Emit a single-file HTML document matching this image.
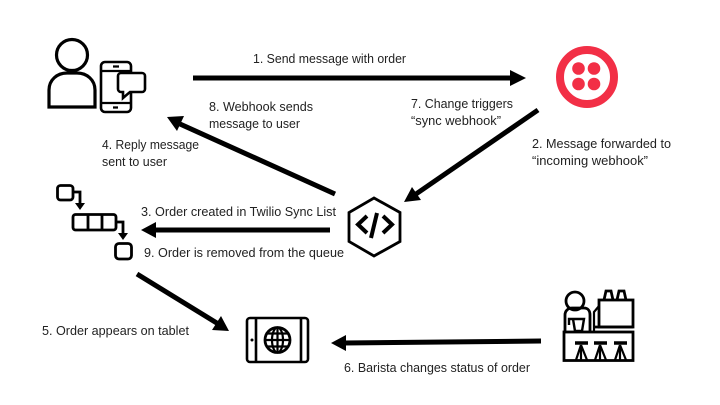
<!DOCTYPE html>
<html><head><meta charset="utf-8"><style>
html,body{margin:0;padding:0;background:#fff}
svg{display:block}
text{font-family:"Liberation Sans",sans-serif;font-size:12.5px;fill:#222}
</style></head><body>
<svg width="720" height="405" viewBox="0 0 720 405" xmlns="http://www.w3.org/2000/svg">
<rect width="720" height="405" fill="#fff"/>
<g stroke="#000" stroke-width="5" fill="none">
<line x1="193" y1="78" x2="512" y2="78"/><path d="M510 70L526 78L510 86z" fill="#000" stroke="none"/>
<line x1="538" y1="110" x2="416" y2="194"/><path d="M404 202L412 187L421 200z" fill="#000" stroke="none"/>
<line x1="335" y1="194" x2="180" y2="124"/><path d="M167 117L184 116L177 131z" fill="#000" stroke="none"/>
<line x1="330" y1="230" x2="155" y2="230"/><path d="M141 230L156 222L156 238z" fill="#000" stroke="none"/>
<line x1="137" y1="274" x2="220" y2="325"/><path d="M229 331L212 330L221 316z" fill="#000" stroke="none"/>
<line x1="541" y1="341" x2="344" y2="343"/><path d="M331 343L346 335L346 351z" fill="#000" stroke="none"/>
</g>
<!-- user -->
<g fill="none" stroke="#000" stroke-width="3.200">
<circle cx="72" cy="55" r="15.500"/>
<path d="M49 107V90C49 80 57 73 67 73H77C87 73 95 80 95 90V107z"/>
<path d="M118 112H105a4 4 0 0 1-4-4V66a4 4 0 0 1 4-4H127a4 4 0 0 1 4 4V73" stroke-width="2.600"/>
<path d="M131 92V108a4 4 0 0 1-4 4H118" stroke-width="2.600"/>
<path d="M101 71H131M101 103H131" stroke-width="2.200"/>
<path d="M113 66.500H119M113 107.500H118" stroke-width="2.200"/>
<path d="M121 73H142a3 3 0 0 1 3 3V89a3 3 0 0 1-3 3H130L123 98V92H121a3 3 0 0 1-3-3V76a3 3 0 0 1 3-3z" stroke-width="2.600" fill="#fff"/>
</g>
<!-- twilio -->
<circle cx="587" cy="77" r="27" fill="none" stroke="#f22f46" stroke-width="8"/>
<g fill="#f22f46"><circle cx="578.500" cy="68.500" r="6.300"/><circle cx="594" cy="68.500" r="6.300"/><circle cx="578.500" cy="84" r="6.300"/><circle cx="594" cy="84" r="6.300"/></g>
<!-- queue -->
<g fill="none" stroke="#000" stroke-width="2.800">
<rect x="57.500" y="185.500" width="15.500" height="14.500" rx="3"/>
<path d="M73 192H80V205"/><path d="M75 203H85L80 210z" fill="#000" stroke-width="0"/>
<rect x="73" y="214.500" width="43" height="15.500" rx="2.500"/><path d="M88 214.500V230M102 214.500V230"/>
<path d="M116 222H123V234"/><path d="M118 233H128L123 240z" fill="#000" stroke-width="0"/>
<rect x="115.500" y="243.500" width="16" height="15.500" rx="3.500"/>
</g>
<!-- hexagon -->
<path d="M374 198L400 212.500V241.500L374 256L349 241.500V212.500z" fill="none" stroke="#000" stroke-width="2.800"/>
<g fill="none" stroke="#000" stroke-width="4"><path d="M367 216L358 224.500L367 233M383 216L392 224.500L383 233M377 213L371 238"/></g>
<!-- tablet -->
<g fill="none" stroke="#000" stroke-width="2.600">
<rect x="247" y="318" width="61" height="44" rx="3"/><path d="M256 318V362M301 318V362"/>
</g>
<circle cx="252" cy="340" r="1.500" fill="#000"/>
<g fill="none" stroke="#000"><circle cx="277.500" cy="340" r="12.500" stroke-width="2.800"/>
<ellipse cx="277.500" cy="340" rx="5.500" ry="12.500" stroke-width="2.200"/><path d="M277.500 327V353M265 340H290M267 333.500H288M267 346.500H288" stroke-width="2.200"/></g>
<!-- barista -->
<g fill="none" stroke="#000" stroke-width="2.800">
<circle cx="575" cy="301" r="9"/>
<path d="M565 332V315C565 311 568 308 572 308H584C588 308 590 311 590 315V332"/>
<path d="M569 325V319H584L582 331H575L573 319" stroke-width="2.400"/>
<rect x="599" y="300" width="34" height="27"/>
<path d="M594 332V312L599 306" stroke-width="2.200"/>
<path d="M594 327H633" />
<path d="M604 300L606 291H611L613 300M617 300L619 291H624L626 300" />
<rect x="564" y="332" width="69" height="28.500"/>
<path d="M575 343H588M594 343H607M614 343H627" stroke-width="3.400"/>
<path d="M581 345L576 360M581 345L587 360M581 345V360M600 345L595 360M600 345L606 360M600 345V360M620 345L615 360M620 345L626 360M620 345V360" stroke-width="2.200"/>
</g>
<text x="253" y="63" textLength="153" lengthAdjust="spacingAndGlyphs">1. Send message with order</text>
<text x="209" y="111" textLength="104" lengthAdjust="spacingAndGlyphs">8. Webhook sends</text>
<text x="209" y="128" textLength="91" lengthAdjust="spacingAndGlyphs">message to user</text>
<text x="411" y="108" textLength="102" lengthAdjust="spacingAndGlyphs">7. Change triggers</text>
<text x="411" y="125" textLength="90" lengthAdjust="spacingAndGlyphs">“sync webhook”</text>
<text x="102" y="149" textLength="97" lengthAdjust="spacingAndGlyphs">4. Reply message</text>
<text x="102" y="166" textLength="65" lengthAdjust="spacingAndGlyphs">sent to user</text>
<text x="532" y="148" textLength="139" lengthAdjust="spacingAndGlyphs">2. Message forwarded to</text>
<text x="532" y="165" textLength="116" lengthAdjust="spacingAndGlyphs">“incoming webhook”</text>
<text x="141" y="216" textLength="195" lengthAdjust="spacingAndGlyphs">3. Order created in Twilio Sync List</text>
<text x="144" y="257" textLength="200" lengthAdjust="spacingAndGlyphs">9. Order is removed from the queue</text>
<text x="42" y="335" textLength="147" lengthAdjust="spacingAndGlyphs">5. Order appears on tablet</text>
<text x="344" y="372" textLength="186" lengthAdjust="spacingAndGlyphs">6. Barista changes status of order</text>
</svg>
</body></html>
